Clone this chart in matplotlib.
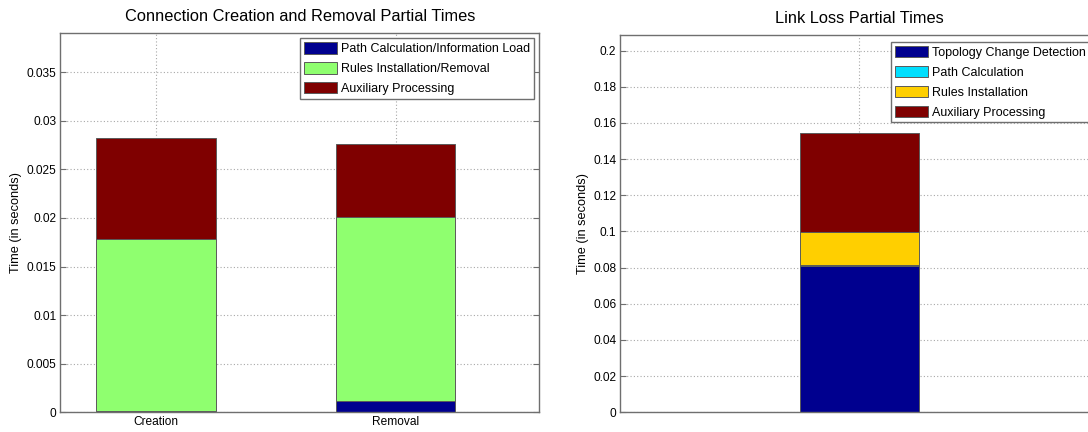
import matplotlib
matplotlib.use("Agg")
import matplotlib.pyplot as plt
import numpy as np

plt.rcParams['font.family'] = ['Liberation Sans', 'DejaVu Sans']

# connection creation / removal partial times (seconds)
conn_categories = ["Creation", "Removal"]
conn_labels = ["Path Calculation/Information Load", "Rules Installation/Removal", "Auxiliary Processing"]
conn_path = [0.0001, 0.00116]
conn_rules = [0.0177, 0.0189]
conn_aux = [0.0104, 0.0076]
conn_colors = ["#00008f", "#8fff6f", "#7f0000"]

# link loss partial times (seconds)
loss_labels = ["Topology Change Detection", "Path Calculation", "Rules Installation", "Auxiliary Processing"]
loss_topology = [0.0811]
loss_path = [0.0002]
loss_rules = [0.0185]
loss_aux = [0.0549]
loss_colors = ["#00008f", "#00dfff", "#ffcf00", "#7f0000"]

W, H = 1088, 432
fig = plt.figure(figsize=(W / 100, H / 100), dpi=100)

axis_grey = "#6f6f6f"
edge_grey = "#5a5a5a"


def style_axes(ax):
    for sp in ax.spines.values():
        sp.set_color(axis_grey)
        sp.set_linewidth(1.0)
    ax.tick_params(direction='in', length=4, color=axis_grey, labelsize=8.6,
                   right=True, top=False, pad=3)
    ax.grid(True, linestyle=(0, (1, 2)), color="#a8a8a8", linewidth=0.8)
    ax.set_axisbelow(True)


def stacked(ax, x, series, colors, labels):
    bottom = np.zeros(len(x))
    for vals, c, lab in zip(series, colors, labels):
        ax.bar(x, vals, width=0.5, bottom=bottom, color=c, edgecolor=edge_grey,
               linewidth=0.7, label=lab)
        bottom = bottom + np.array(vals)


def add_legend(ax, loc, anchor):
    leg = ax.legend(loc=loc, bbox_to_anchor=anchor, fontsize=9.0,
                    fancybox=False, edgecolor=axis_grey, framealpha=1,
                    handlelength=2.7, handleheight=1.05, labelspacing=0.55,
                    borderpad=0.3, handletextpad=0.3, borderaxespad=0)
    leg.get_frame().set_linewidth(1.0)
    return leg


# left panel
ax1 = fig.add_axes([60.3 / W, (H - 412.3) / H, 479 / W, 379 / H])
x1 = np.arange(1, len(conn_categories) + 1)
stacked(ax1, x1, [conn_path, conn_rules, conn_aux], conn_colors, conn_labels)
ax1.set_xlim(0.6, 2.6)
ax1.set_ylim(0, 0.039)
ax1.set_yticks(np.arange(0, 0.0351, 0.005))
ax1.set_yticklabels(["0", "0.005", "0.01", "0.015", "0.02", "0.025", "0.03", "0.035"])
ax1.set_xticks(x1)
ax1.set_xticklabels(conn_categories)
style_axes(ax1)
ax1.set_title("Connection Creation and Removal Partial Times", fontsize=11.8, pad=9)
ax1.set_ylabel("Time (in seconds)", fontsize=9.2, labelpad=3)
add_legend(ax1, 'upper right', (0.989, 0.987))

# right panel (extends past the figure edge)
ax2 = fig.add_axes([620.3 / W, (H - 412.3) / H, 478 / W, 377 / H])
x2 = np.array([1])
stacked(ax2, x2, [loss_topology, loss_path, loss_rules, loss_aux], loss_colors, loss_labels)
ax2.set_xlim(0, 2)
ax2.set_ylim(0, 0.2085)
ax2.set_yticks(np.arange(0, 0.201, 0.02))
ax2.set_yticklabels(["0", "0.02", "0.04", "0.06", "0.08", "0.1", "0.12", "0.14", "0.16", "0.18", "0.2"])
ax2.set_xticks([1])
ax2.set_xticklabels([""])
style_axes(ax2)
ax2.tick_params(axis='x', length=0)
ax2.set_title("Link Loss Partial Times", fontsize=11.8, pad=9)
ax2.set_ylabel("Time (in seconds)", fontsize=9.2, labelpad=3)
add_legend(ax2, 'upper left', (0.566, 0.982))

fig.savefig("out.png", dpi=100)
